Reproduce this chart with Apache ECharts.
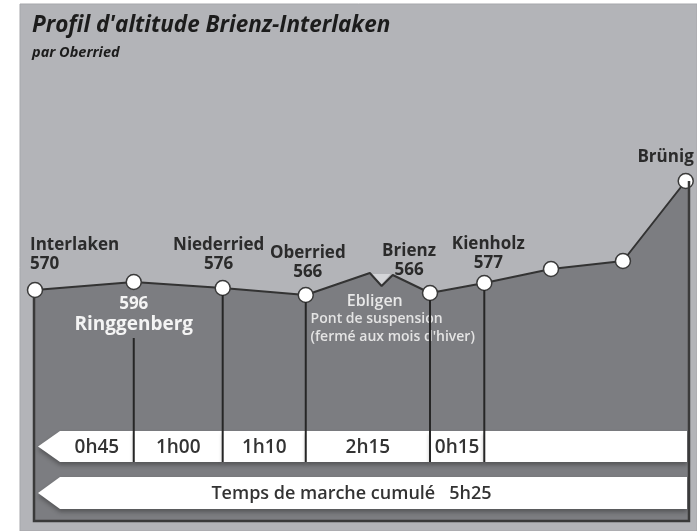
<!DOCTYPE html>
<html><head><meta charset="utf-8">
<script src="https://cdn.jsdelivr.net/npm/echarts@6/dist/echarts.min.js"></script>
<style>html,body{margin:0;padding:0;background:#fff}#c{width:697px;height:531px}</style>
</head><body><div id="c"></div>
<script>
// ---- data ----
const stationNames   = ['Interlaken','Ringgenberg','Niederried','Oberried','','','','Brienz','Kienholz','','','Brünig',''];
const altitudeLabels = ['570','596','576','566','','','','566','577','','','',''];
const distance       = [0, 15.1, 28.7, 41.4, 51.2, 53.0, 54.7, 60.4, 68.7, 78.9, 89.9, 99.5, 100];
const profileHeight  = [231, 239, 233, 226, 248, 235, 246, 228, 238, 252, 260, 340, 340];
const hasMarker      = [1, 1, 1, 1, 0, 0, 0, 1, 1, 1, 1, 1, 0];
const segmentStops   = [0, 1, 2, 3, 7, 8];          // indices of stations bounding each walking stage
const timeLabels     = ['0h45', '1h00', '1h10', '2h15', '0h15'];
const totalLabel     = 'Temps de marche cumulé   5h25';
const noteIndex      = 5;
const noteTitle      = 'Ebligen';
const noteLines      = ['Pont de suspension', "(fermé aux mois d'hiver)"];
const titleText      = "Profil d'altitude Brienz-Interlaken";
const subtitleText   = 'par Oberried';

// ---- styles ----
const FONT = '"Open Sans", "Noto Sans", sans-serif';
const DARK = '#2b2b2b';
const labelStyle = {
  0:  {position: 'top', align: 'left', offset: [-5, 3], distance: 11},
  1:  {position: 'bottom', distance: 4, light: true},
  2:  {position: 'top', offset: [-4, 0], distance: 6},
  3:  {position: 'top', offset: [2, 1], distance: 6},
  7:  {position: 'top', offset: [-21, 0], distance: 5},
  8:  {position: 'top', offset: [4, 0], distance: 2},
  11: {position: 'top', align: 'right', offset: [8, 0], distance: 6}
};

const seriesData = distance.map((d, i) => {
  const item = {value: [d, profileHeight[i]], symbolSize: hasMarker[i] ? 15 : 0};
  const ls = labelStyle[i];
  if (ls) {
    const lines = [];
    if (ls.light) { lines.push('{v|' + altitudeLabels[i] + '}', '{n|' + stationNames[i] + '}'); }
    else {
      lines.push('{n|' + stationNames[i] + '}');
      if (altitudeLabels[i]) lines.push('{v|' + altitudeLabels[i] + '}');
    }
    item.label = {
      show: true, position: ls.position, distance: ls.distance, offset: ls.offset || [0, 0],
      align: ls.align || 'center', formatter: lines.join('\n'),
      rich: ls.light ? {
        v: {fontFamily: FONT, fontWeight: 'bold', fontSize: 17, color: '#f4f4f4', lineHeight: 20, align: 'center'},
        n: {fontFamily: FONT, fontWeight: 'bold', fontSize: 19, color: '#f4f4f4', lineHeight: 20, align: 'center'}
      } : {
        n: {fontFamily: FONT, fontWeight: 'bold', fontSize: 17, color: DARK, lineHeight: 19, align: ls.align || 'center'},
        v: {fontFamily: FONT, fontWeight: 'bold', fontSize: 17, color: DARK, lineHeight: 19, align: ls.align || 'center'}
      }
    };
  }
  if (i === noteIndex) {
    item.label = {
      show: true, position: 'bottom', distance: 6, align: 'left', offset: [-71, 0],
      formatter: '{t|' + noteTitle + '}\n' + noteLines.map(s => '{s|' + s + '}').join('\n'),
      rich: {
        t: {fontFamily: FONT, fontWeight: 600, fontSize: 16, color: '#e8e8e8', lineHeight: 18, align: 'center', padding: [0, 36, 0, 0]},
        s: {fontFamily: FONT, fontWeight: 600, fontSize: 14, color: '#e4e4e4', lineHeight: 18, align: 'left'}
      }
    };
  }
  return item;
});

// walking-time segments
const segments = [];
for (let k = 0; k < timeLabels.length; k++) {
  segments.push({value: [distance[segmentStops[k]], distance[segmentStops[k + 1]], 0], label: timeLabels[k]});
}
segments.push({value: [distance[segmentStops[segmentStops.length - 1]], 100, 0], label: ''});
segments.push({value: [0, 100, 1], label: totalLabel});

// drop lines from stations
const dropLines = segmentStops.slice(1).map(i => ({value: [distance[i], i === 1 ? 183 : profileHeight[i]]}));

const BAR_ROWS = [[90, 59], [44, 12]];

const chart = echarts.init(document.getElementById('c'));
chart.setOption({
  animation: false,
  backgroundColor: '#ffffff',
  title: {
    text: titleText, subtext: subtitleText, left: 27, top: 9, itemGap: 8,
    textStyle: {fontFamily: FONT, fontWeight: 'bold', fontStyle: 'italic', fontSize: 22.5, color: '#1c1c1c'},
    subtextStyle: {fontFamily: FONT, fontWeight: 'bold', fontStyle: 'italic', fontSize: 14.5, color: '#1c1c1c'}
  },
  graphic: [{
    type: 'rect', z: -10, shape: {x: 20, y: 4, width: 677, height: 527},
    style: {fill: '#b3b4b8', stroke: '#a6a7ab', lineWidth: 1}
  }],
  grid: {left: 35, right: 8, top: 121, bottom: 10, containLabel: false},
  xAxis: {type: 'value', min: 0, max: 100, show: false},
  yAxis: {type: 'value', min: 0, max: 400, show: false},
  series: [
    {
      type: 'line', data: seriesData, z: 3,
      symbol: 'circle', showAllSymbol: true,
      lineStyle: {color: '#333', width: 2},
      itemStyle: {color: '#ffffff', borderColor: '#3a3a3a', borderWidth: 1.5},
      areaStyle: {color: '#7c7d81', opacity: 1},
      markPoint: {
        symbol: 'triangle', symbolRotate: 180, symbolSize: [18, 10], symbolOffset: [0, -7],
        itemStyle: {color: '#d4d5d8'}, label: {show: false},
        data: [{coord: [distance[noteIndex], profileHeight[noteIndex]]}]
      }
    },
    {
      type: 'custom', z: 4, data: segments,
      renderItem: function (params, api) {
        const seg = segments[params.dataIndex];
        const xs = api.value(0), xe = api.value(1), row = api.value(2);
        const x0 = api.coord([0, 0])[0], x100 = api.coord([100, 0])[0];
        const top = api.coord([0, BAR_ROWS[row][0]])[1];
        const bot = api.coord([0, BAR_ROWS[row][1]])[1];
        const ps = api.coord([xs, 0])[0];
        const pe = xe >= 100 ? x100 - 2 : api.coord([xe, 0])[0];
        const bodyLeft = x0 + 25;
        let points, tl;
        if (xs <= 0) { points = [[x0 + 3, (top + bot) / 2], [bodyLeft, top], [pe, top], [pe, bot], [bodyLeft, bot]]; tl = bodyLeft; }
        else { points = [[ps, top], [pe, top], [pe, bot], [ps, bot]]; tl = ps; }
        const cx = row === 1 ? (tl + pe) / 2 - 22 : (tl + pe) / 2;
        return {type: 'group', children: [
          {type: 'polygon', shape: {points: points},
           style: {fill: '#ffffff', shadowBlur: 4, shadowOffsetY: 3, shadowColor: 'rgba(40,40,40,0.45)'}},
          {type: 'text', z2: 10, style: {text: seg.label, x: cx, y: (top + bot) / 2 + 1,
            align: 'center', verticalAlign: 'middle', fill: '#333',
            font: (row === 0 ? '600 19px ' : '600 18px ') + FONT}}
        ]};
      }
    },
    {
      type: 'custom', z: 5, data: dropLines,
      renderItem: function (params, api) {
        const p1 = api.coord([api.value(0), api.value(1)]);
        const p2 = api.coord([api.value(0), BAR_ROWS[0][1]]);
        return {type: 'line', shape: {x1: p1[0], y1: p1[1] + (params.dataIndex === 0 ? 0 : 7), x2: p2[0], y2: p2[1]},
                style: {stroke: '#262626', lineWidth: 2}};
      }
    },
    {
      type: 'custom', z: 5, data: [{value: [0]}],
      renderItem: function (params, api) {
        const a = api.coord([0, profileHeight[0]]);
        const b = api.coord([0, 0]);
        const c = api.coord([100, 0]);
        const d = api.coord([100, profileHeight[profileHeight.length - 1]]);
        return {type: 'polyline', shape: {points: [[a[0] - 1, a[1] + 7], [b[0] - 1, b[1]], [c[0], c[1]], [d[0], d[1]]]},
                style: {stroke: '#3a3a3a', lineWidth: 2.5, fill: null}};
      }
    }
  ]
});
</script></body></html>
